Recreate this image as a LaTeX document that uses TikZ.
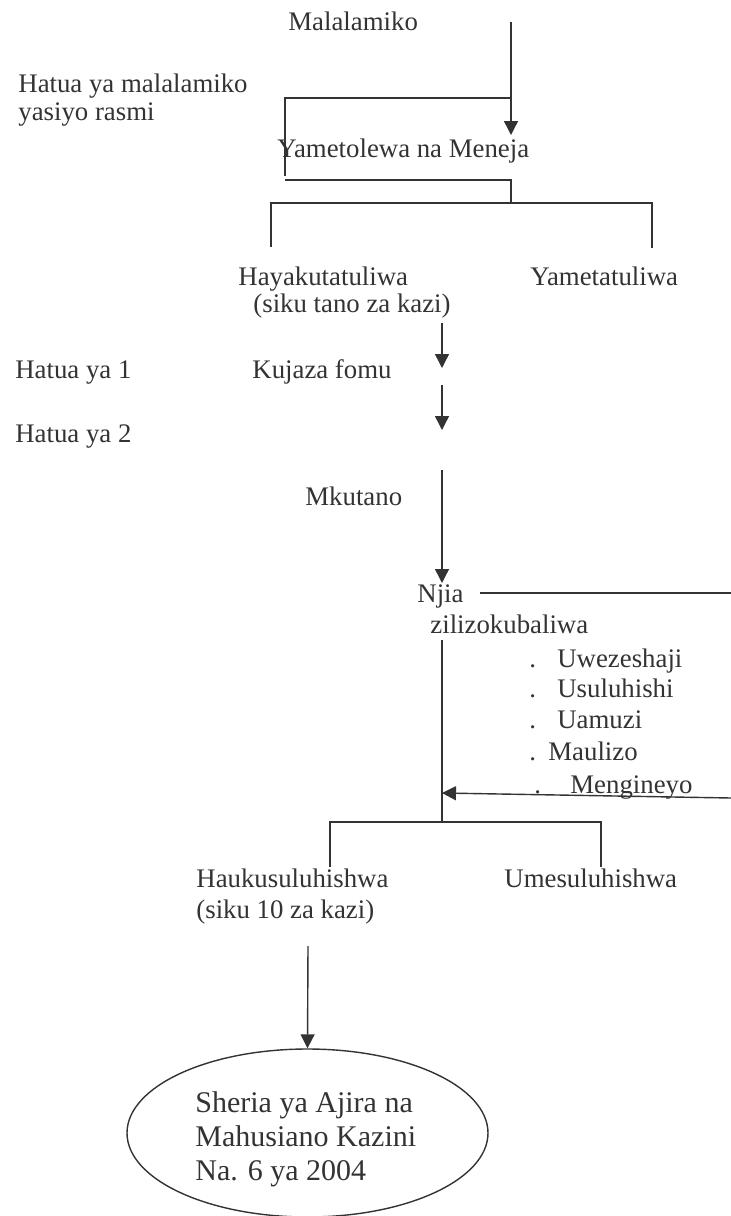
\documentclass[tikz,border=0pt]{standalone}
\usepackage{fontspec}
\setmainfont{Liberation Serif}
\usetikzlibrary{arrows.meta, shapes.geometric}

\definecolor{ink}{RGB}{51,51,51}

\tikzset{
  lbl/.style={anchor=base west, inner sep=0pt, align=left, text=ink, font=\fontsize{13.4}{14}\selectfont},
  ln/.style={draw=ink, line width=0.7pt},
  arr/.style={ln, -{Triangle[length=7pt,width=7pt]}},
}

\begin{document}
\begin{tikzpicture}[x=0.5pt, y=-0.5pt]
    \useasboundingbox (0,0) rectangle (731,1216);

    \node[lbl] (malalamiko) at (288,30) {Malalamiko};
    \node[lbl] (isiyorasmi) at (18,120) {Hatua ya malalamiko\\yasiyo rasmi};
    \node[lbl] (meneja) at (277,157) {Yametolewa na Meneja};
    \node[lbl] (hayakutatuliwa) at (238,312) {Hayakutatuliwa\\[-0.5pt]\hspace*{7.5pt}(siku tano za kazi)};
    \node[lbl] (yametatuliwa) at (530,285) {Yametatuliwa};
    \node[lbl] (hatua1) at (15,378) {Hatua ya 1};
    \node[lbl] (kujaza) at (252,378) {Kujaza fomu};
    \node[lbl] (hatua2) at (15,442) {Hatua ya 2};
    \node[lbl] (mkutano) at (305,505) {Mkutano};
    \node[lbl] (njia) at (417,633) {Njia\\[1.5pt]\hspace*{6.5pt}zilizokubaliwa};
    \node[lbl] (uwezeshaji) at (529,667) {\makebox[14pt][l]{.}Uwezeshaji};
    \node[lbl] (usuluhishi) at (529,697) {\makebox[14pt][l]{.}Usuluhishi};
    \node[lbl] (uamuzi) at (529,728) {\makebox[14pt][l]{.}Uamuzi};
    \node[lbl] (maulizo) at (529,760) {\makebox[9.5pt][l]{.}Maulizo};
    \node[lbl] (mengineyo) at (534,793) {\makebox[18pt][l]{.}Mengineyo};
    \node[lbl] (haukusuluhishwa) at (196,918) {Haukusuluhishwa\\[1.5pt](siku 10 za kazi)};
    \node[lbl] (umesuluhishwa) at (504,887) {Umesuluhishwa};
    \node[ellipse, draw=ink, line width=0.7pt, minimum width=180.5pt, minimum height=84pt, inner sep=0pt] (sheria) at (307.5,1133) {};
    \node[lbl, font=\fontsize{15}{17}\selectfont] (sheriatext) at (195,1180) {Sheria ya Ajira na\\Mahusiano Kazini\\Na. 6 ya 2004};

    \coordinate (in0) at (511,22);
    \coordinate (in1) at (511,98);
    \coordinate (in2) at (511,135);
    \coordinate (br0) at (285,98);
    \coordinate (br1) at (285,176);
    \coordinate (br2) at (285,180);
    \coordinate (br3) at (511,180);
    \coordinate (br4) at (511,203);
    \coordinate (tl0) at (271,203);
    \coordinate (tl1) at (652,203);
    \coordinate (tl2) at (271,247);
    \coordinate (tl3) at (652,248);
    \coordinate (st0) at (442,323);
    \coordinate (st1) at (442,368);
    \coordinate (st2) at (442,385);
    \coordinate (st3) at (442,430);
    \coordinate (st4) at (442,470);
    \coordinate (st5) at (442,583);
    \coordinate (nj0) at (480,593);
    \coordinate (nj1) at (731,593);
    \coordinate (dn0) at (442,640);
    \coordinate (dn1) at (442,822);
    \coordinate (rt0) at (731,798);
    \coordinate (rt1) at (442,793);
    \coordinate (bl0) at (330,822);
    \coordinate (bl1) at (601,822);
    \coordinate (bl2) at (330,867);
    \coordinate (bl3) at (601,867);
    \coordinate (lw0) at (308,946);

    \draw[arr] (in0) -- (in2);
    \draw[ln] (in1) -- (br0) -- (br1);
    \draw[ln] (br2) -- (br3) -- (br4);
    \draw[ln] (tl2) -- (tl0) -- (tl1) -- (tl3);
    \draw[arr] (st0) -- (st1);
    \draw[arr] (st2) -- (st3);
    \draw[arr] (st4) -- (st5);
    \draw[ln] (nj0) -- (nj1);
    \draw[ln] (dn0) -- (dn1);
    \draw[arr] (rt0) -- (rt1);
    \draw[ln] (bl2) -- (bl0) -- (bl1) -- (bl3);
    \draw[arr] (lw0) -- (sheria.north);
\end{tikzpicture}
\end{document}
